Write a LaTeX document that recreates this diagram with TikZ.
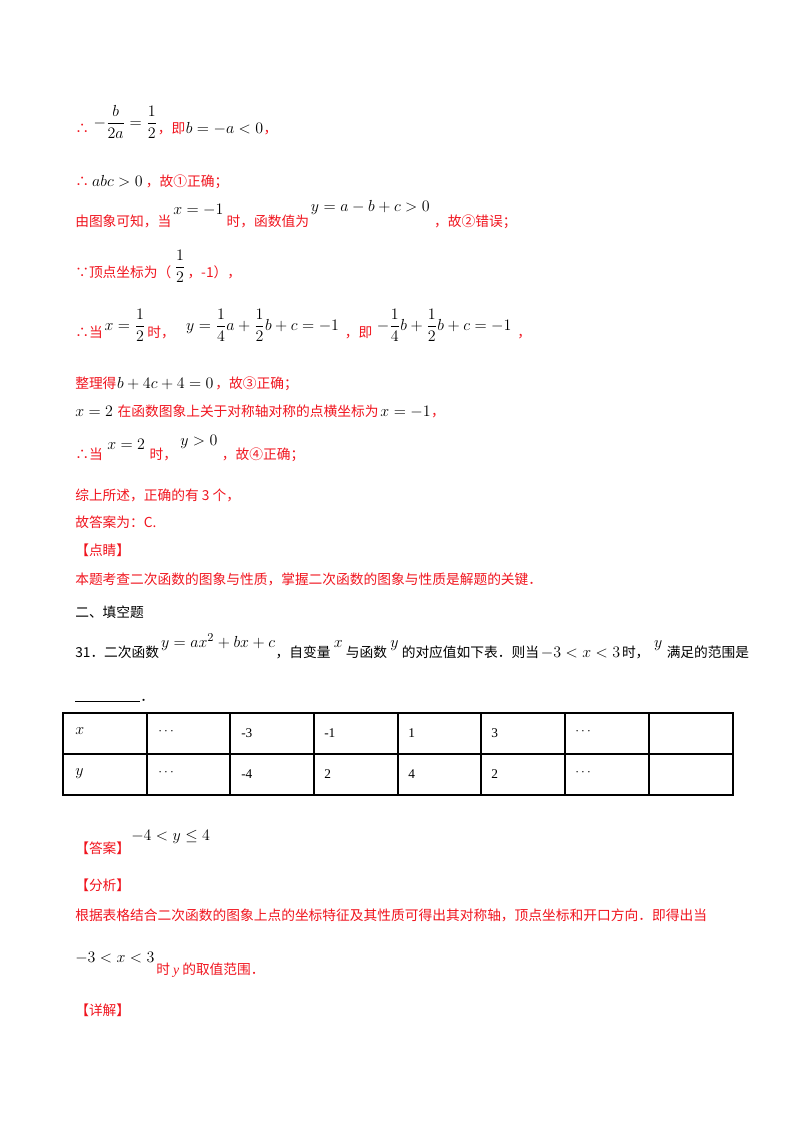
\documentclass[tikz,border=0pt]{standalone}
\usepackage{amsmath}
\usepackage{fontspec}
\setmainfont{Liberation Serif}
\newfontfamily\cjk{Noto Sans CJK SC}
\definecolor{rd}{RGB}{240,20,30}
\begin{document}
\begin{tikzpicture}[x=0.75pt,y=-0.75pt,
  t/.style={anchor=base west,inner sep=0,text=rd,font=\cjk\fontsize{10.3}{12}\selectfont},
  m/.style={anchor=base west,inner sep=0,text=black,font=\fontsize{12.5}{14}\selectfont},
  tb/.style={t,text=black}]
\useasboundingbox (0,0) rectangle (800,1132);
% line 1
\node[t] (a1) at (75,133) {∴};
\node[m] (a2) at ([xshift=3pt,yshift=4pt]a1.base east) {$-\dfrac{b}{2a}=\dfrac{1}{2}$};
\node[t] (a3) at ([yshift=-4pt]a2.base east) {，即};
\node[m] (a4) at (a3.base east) {$b=-a<0$};
\node[t] (a5) at (a4.base east) {，};
% line 2
\node[t] (b1) at (75,186) {∴};
\node[m] (b2) at ([xshift=2pt]b1.base east) {$abc>0$};
\node[t] (b3) at ([xshift=2pt]b2.base east) {，故①正确；};
% line 3
\node[t] (c1) at (75,226) {由图象可知，当};
\node[m] (c2) at ([xshift=1pt,yshift=9pt]c1.base east) {$x=-1$};
\node[t] (c3) at ([xshift=2pt,yshift=-9pt]c2.base east) {时，函数值为};
\node[m] (c4) at ([xshift=1pt,yshift=11pt]c3.base east) {$y=a-b+c>0$};
\node[t] (c5) at ([xshift=3pt,yshift=-11pt]c4.base east) {，故②错误；};
% line 4
\node[t] (d1) at (75,277) {∵顶点坐标为（};
\node[m] (d2) at ([xshift=2pt,yshift=4pt]d1.base east) {$\dfrac{1}{2}$};
\node[t] (d3) at ([xshift=1pt,yshift=-4pt]d2.base east) {，-1），};
% line 5
\node[t] (e1) at (75,337) {∴当};
\node[m] (e2) at ([xshift=1pt,yshift=5pt]e1.base east) {$x=\dfrac{1}{2}$};
\node[t] (e3) at ([xshift=1pt,yshift=-5pt]e2.base east) {时，};
\node[m] (e4) at ([xshift=8pt,yshift=5pt]e3.base east) {$y=\dfrac{1}{4}a+\dfrac{1}{2}b+c=-1$};
\node[t] (e5) at ([xshift=4pt,yshift=-5pt]e4.base east) {，即};
\node[m] (e6) at ([xshift=3pt,yshift=5pt]e5.base east) {$-\dfrac{1}{4}b+\dfrac{1}{2}b+c=-1$};
\node[t] (e7) at ([xshift=4pt,yshift=-5pt]e6.base east) {，};
% line 6
\node[t] (f1) at (75,388) {整理得};
\node[m] (f2) at (f1.base east) {$b+4c+4=0$};
\node[t] (f3) at ([xshift=1pt]f2.base east) {，故③正确；};
% line 7
\node[m] (g1) at (75,416) {$x=2$};
\node[t] (g2) at ([xshift=3pt]g1.base east) {在函数图象上关于对称轴对称的点横坐标为};
\node[m] (g3) at ([xshift=1pt]g2.base east) {$x=-1$};
\node[t] (g4) at (g3.base east) {，};
% line 8
\node[t] (h1) at (75,459) {∴当};
\node[m] (h2) at ([xshift=3pt,yshift=7pt]h1.base east) {$x=2$};
\node[t] (h3) at ([xshift=3pt,yshift=-7pt]h2.base east) {时，};
\node[m] (h4) at ([xshift=2pt,yshift=10pt]h3.base east) {$y>0$};
\node[t] (h5) at ([xshift=3pt,yshift=-10pt]h4.base east) {，故④正确；};
% lines 9-12
\node[t] (i1) at (75,500) {综上所述，正确的有 3 个，};
\node[t] (j1) at (75,527) {故答案为：C.};
\node[t] (k1) at (75,555) {【点睛】};
\node[t] (l1) at (75,584) {本题考查二次函数的图象与性质，掌握二次函数的图象与性质是解题的关键．};
\node[tb] (n1) at (75,617) {二、填空题};
% question
\node[tb] (q1) at (75,657) {31．二次函数};
\node[m] (q2) at ([xshift=1pt,yshift=7pt]q1.base east) {$y=ax^2+bx+c$};
\node[tb] (q3) at ([yshift=-7pt]q2.base east) {，自变量};
\node[m] (q4) at ([xshift=2pt,yshift=7pt]q3.base east) {$x$};
\node[tb] (q5) at ([xshift=2pt,yshift=-7pt]q4.base east) {与函数};
\node[m] (q6) at ([xshift=2pt,yshift=7pt]q5.base east) {$y$};
\node[tb] (q7) at ([xshift=2pt,yshift=-7pt]q6.base east) {的对应值如下表．则当};
\node[m] (q8) at ([xshift=1pt]q7.base east) {$-3<x<3$};
\node[tb] (q9) at ([xshift=1pt]q8.base east) {时，};
\node[m] (q10) at ([xshift=3pt,yshift=7pt]q9.base east) {$y$};
\node[tb] (q11) at ([xshift=3pt,yshift=-7pt]q10.base east) {满足的范围是};
\draw (75,701) -- (140,701);
\node[tb] (q12) at (140,701) {．};
% table
\draw[line width=0.8pt] (63,713) rectangle (733,795);
\draw[line width=0.8pt] (63,754) -- (733,754);
\foreach \xx in {147,230,314,398,481,565,649} \draw[line width=0.8pt] (\xx,713) -- (\xx,795);
\node[m] (r1) at (75,734) {$x$};
\node[m,font=\bfseries] (r2) at (158,734) {$\cdots$};
\node[m,font=\fontsize{10}{12}\selectfont] (r3) at (241,737) {-3};
\node[m,font=\fontsize{10}{12}\selectfont] (r4) at (324,737) {-1};
\node[m,font=\fontsize{10}{12}\selectfont] (r5) at (408,737) {1};
\node[m,font=\fontsize{10}{12}\selectfont] (r6) at (491,737) {3};
\node[m,font=\bfseries] (r7) at (575,734) {$\cdots$};
\node[m] (s1) at (75,775) {$y$};
\node[m,font=\bfseries] (s2) at (158,775) {$\cdots$};
\node[m,font=\fontsize{10}{12}\selectfont] (s3) at (241,778) {-4};
\node[m,font=\fontsize{10}{12}\selectfont] (s4) at (324,778) {2};
\node[m,font=\fontsize{10}{12}\selectfont] (s5) at (408,778) {4};
\node[m,font=\fontsize{10}{12}\selectfont] (s6) at (491,778) {2};
\node[m,font=\bfseries] (s7) at (575,775) {$\cdots$};
% answer
\node[t] (u1) at (75,853) {【答案】};
\node[m] (u2) at (131,840) {$-4<y\le 4$};
\node[t] (v1) at (75,890) {【分析】};
\node[t] (w1) at (75,920) {根据表格结合二次函数的图象上点的坐标特征及其性质可得出其对称轴，顶点坐标和开口方向．即得出当};
\node[m] (w2) at (75,962) {$-3<x<3$};
\node[t] (w3) at ([xshift=1pt,yshift=-9pt]w2.base east) {时 {\rmfamily\itshape y} 的取值范围．};
\node[t] (x1) at (75,1015) {【详解】};
\end{tikzpicture}
\end{document}
